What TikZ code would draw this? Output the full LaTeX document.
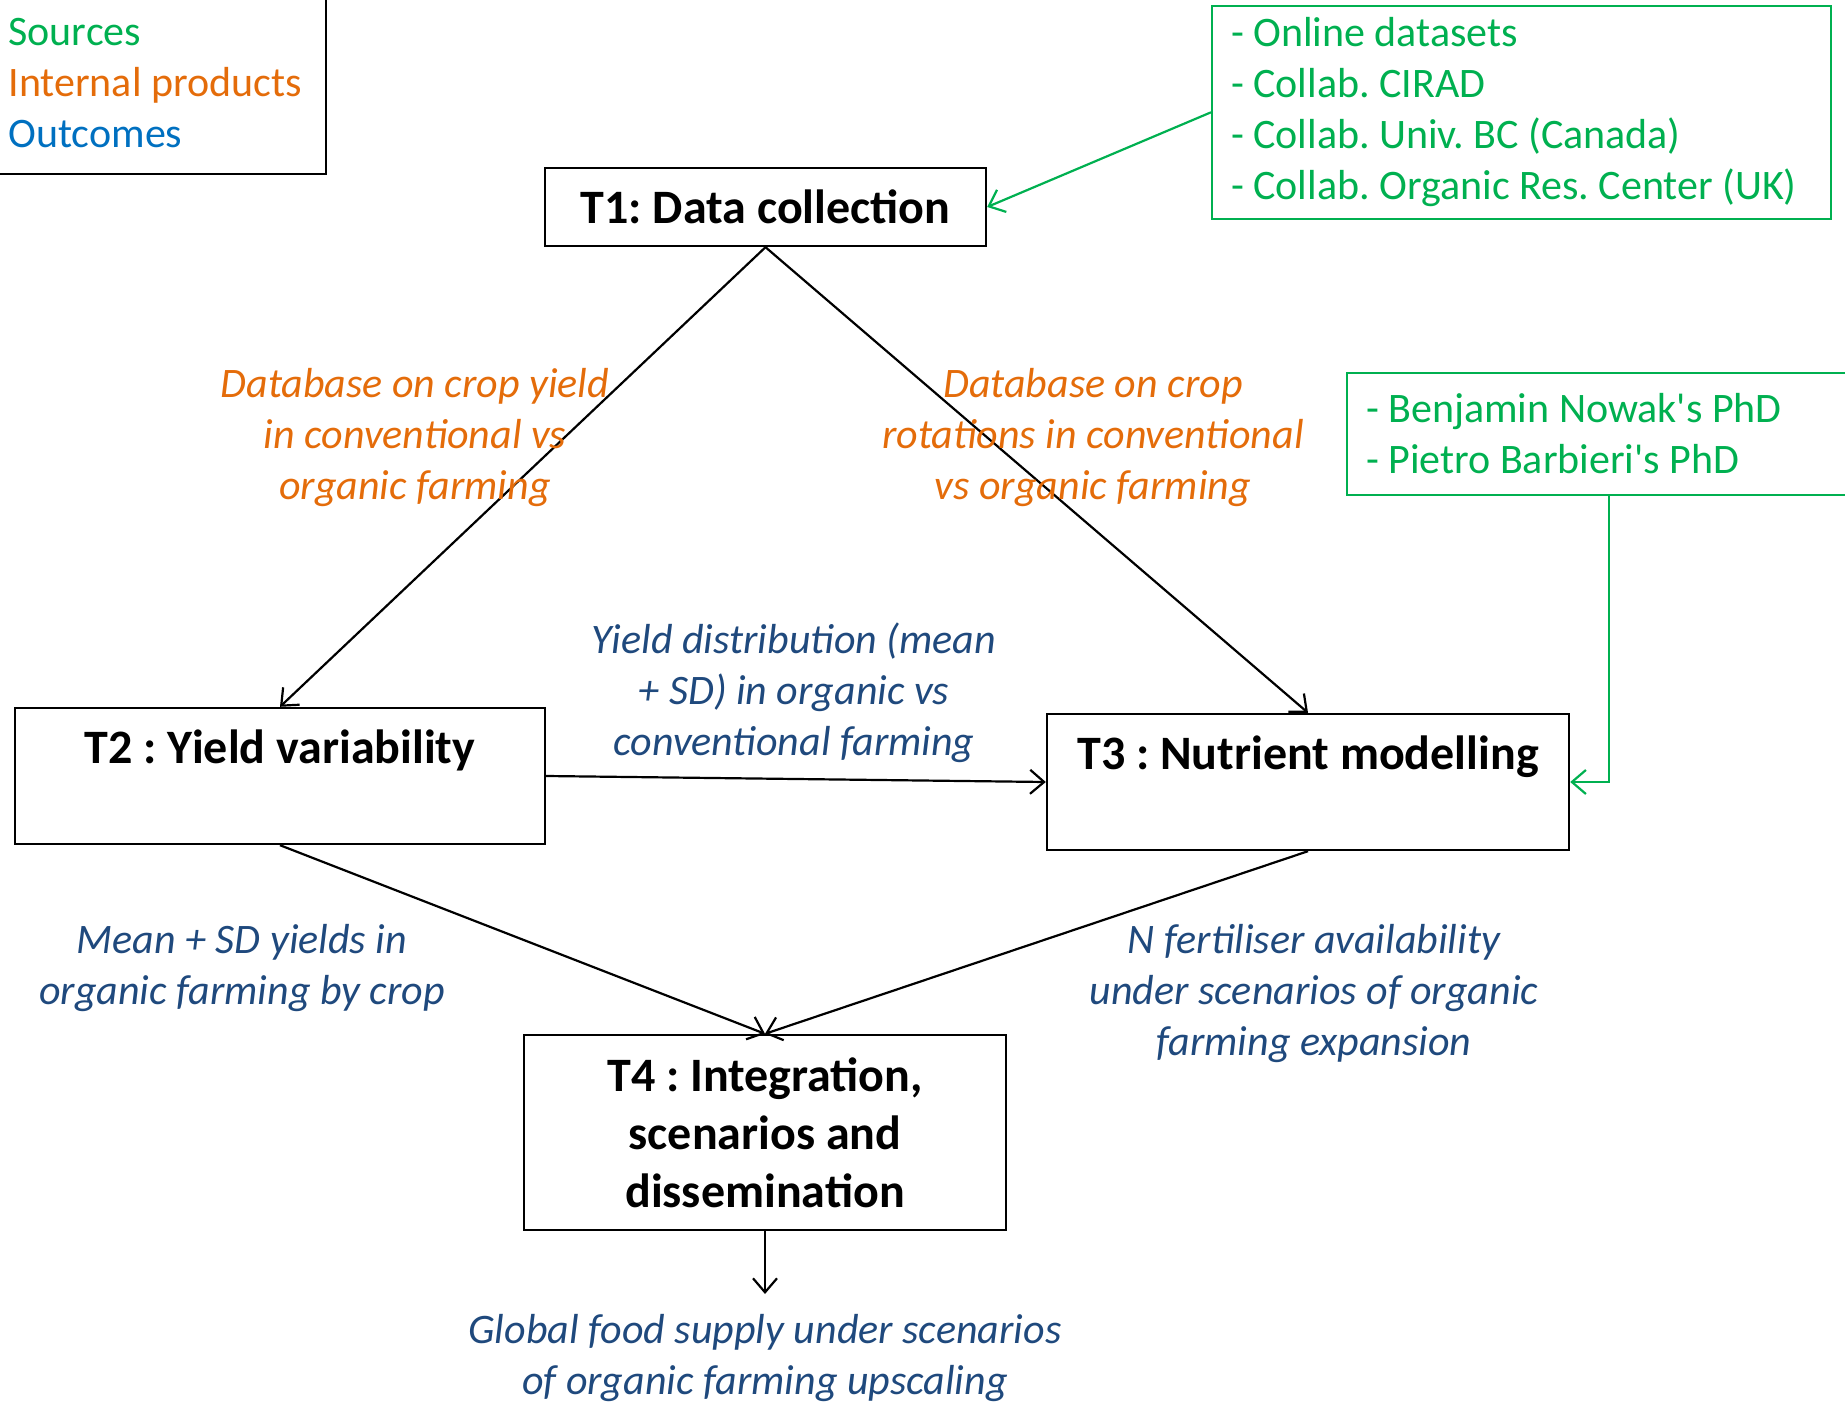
\documentclass[tikz,border=0pt]{standalone}
\usepackage{fontspec}
\setmainfont{Carlito}
\usetikzlibrary{arrows.meta,calc}
\frenchspacing

\definecolor{srcgreen}{RGB}{0,176,80}
\definecolor{prodorange}{RGB}{228,108,10}
\definecolor{outblue}{RGB}{0,112,192}
\definecolor{labblue}{RGB}{31,73,125}

\begin{document}
\begin{tikzpicture}[x=0.5pt,y=-0.5pt,>={Straight Barb[length=7pt,width=12pt]},
    taskbox/.style={draw,line width=1.2pt,inner sep=0pt,font=\fontsize{24}{29}\selectfont\bfseries,align=flush center},
    srcbox/.style={draw=srcgreen,line width=1pt,text=srcgreen,align=flush left,inner xsep=9.5pt,inner ysep=6pt,
                   font=\fontsize{21}{25.5}\selectfont},
    product/.style={text=prodorange,align=center,font=\fontsize{21}{25.5}\selectfont\itshape},
    outcome/.style={text=labblue,align=center,font=\fontsize{21}{25.5}\selectfont\itshape},
    flow/.style={->,line width=1.1pt},
    srcflow/.style={->,line width=1.1pt,draw=srcgreen}]

    \useasboundingbox (0,0) rectangle (1845,1411);

    % legend
    \node[draw,line width=1.2pt,anchor=south east,align=left,inner xsep=12pt,inner ysep=13pt,
          font=\fontsize{21}{25.5}\selectfont] (legend) at (327,175)
          {\textcolor{srcgreen}{Sources}\\
           \textcolor{prodorange}{Internal products}\\
           \textcolor{outblue}{Outcomes}};

    % tasks
    \node[taskbox,minimum width=220.5pt,minimum height=39pt] (t1) at (765.5,207) {T1: Data collection};
    \node[taskbox,text width=265pt,text height=27.5pt,text depth=40.5pt] (t2) at (280,776) {T2 : Yield variability};
    \node[taskbox,text width=261pt,text height=27.5pt,text depth=40.5pt] (t3) at (1308,782) {T3 : Nutrient modelling};
    \node[taskbox,minimum width=241pt,minimum height=97.5pt] (t4) at (765,1132.5)
          {T4 : Integration,\\ scenarios and\\ dissemination};

    % sources
    \node[srcbox,anchor=south west,text width=290.5pt] (src1) at (1211,220)
          {- Online datasets\\ - Collab. CIRAD\\ - Collab. Univ. BC (Canada)\\ - Collab. Organic Res. Center (UK)};
    \node[srcbox,anchor=north west,text width=243pt,minimum height=61pt] (src2) at (1346,372)
          {- Benjamin Nowak\textquotesingle s PhD\\ - Pietro Barbieri\textquotesingle s PhD};

    \coordinate (out) at (765,1294);

    % connectors
    \draw[srcflow] (src1.west) -- (t1.east);
    \draw[srcflow] (src2.south) |- (t3.east);

    \draw[flow] (t1.south) -- (t2.north);
    \draw[flow] (t1.south) -- (t3.north);
    \draw[flow] (t2.east) -- (t3.west);
    \draw[flow] (t2.south) -- (t4.north);
    \draw[flow] (t3.south) -- (t4.north);
    \draw[flow] (t4.south) -- (out);

    % labels
    \node[product] (db1) at (415,438) {Database on crop yield\\ in conventional vs\\ organic farming};
    \node[product] (db2) at (1093,438) {Database on crop\\ rotations in conventional\\ vs organic farming};
    \node[outcome] (yd) at (794,693) {Yield distribution (mean\\ + SD) in organic vs\\ conventional farming};
    \node[outcome] (msd) at (242,968) {Mean + SD yields in\\ organic farming by crop};
    \node[outcome] (nfert) at (1314,994) {N fertiliser availability\\ under scenarios of organic\\ farming expansion};
    \node[outcome] (food) at (765,1358) {Global food supply under scenarios\\ of organic farming upscaling};

\end{tikzpicture}
\end{document}
